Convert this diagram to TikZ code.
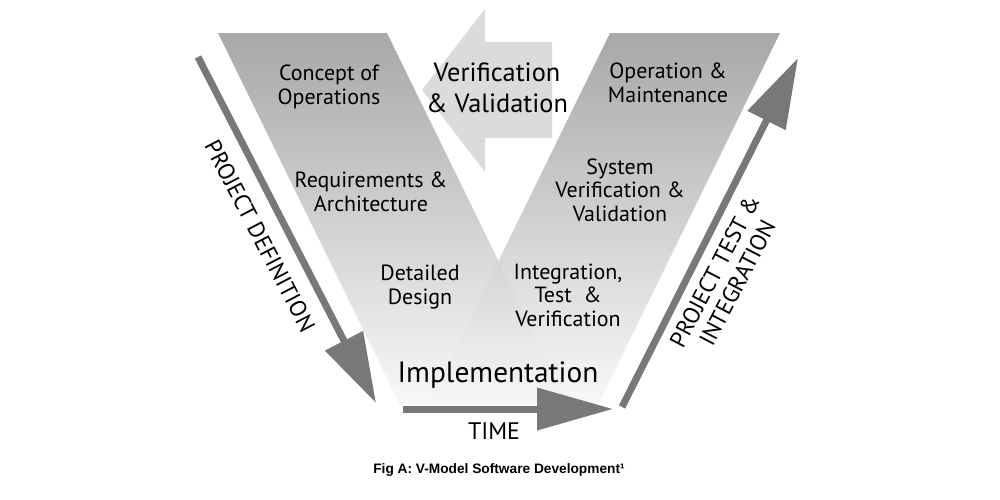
\documentclass[tikz,border=0pt]{standalone}
\usepackage{fontspec}
\setmainfont{PT Sans}
\newfontfamily\figfont{Liberation Sans}
\usetikzlibrary{arrows.meta}
\definecolor{bandtop}{gray}{0.60}
\definecolor{bandbottom}{gray}{0.97}
\definecolor{vvgray}{gray}{0.86}
\definecolor{arrowgray}{gray}{0.47}

\begin{document}
\begin{tikzpicture}[x=0.2mm,y=-0.2mm,
	stage/.style={align=center,inner sep=0pt,font=\fontsize{12.5}{13.4}\selectfont},
	band/.style={top color=bandtop,bottom color=bandbottom,fill opacity=0.85},
	bigarrow/.style={draw=arrowgray,line width=1.4mm,-{Triangle[length=14mm,width=8.2mm]}},
	side/.style={align=center,inner sep=0pt,font=\fontsize{13.2}{14.5}\selectfont}]
\useasboundingbox (0,0) rectangle (1000,500);
% the V
\shade[band] (218,33) -- (387,33) -- (569,405) -- (400,405) -- cycle;
\shade[band] (610,33) -- (780,33) -- (598,405) -- (428,405) -- cycle;
\fill[vvgray] (552,42) -- (485,42) -- (485,9) -- (422,90) -- (485,172) -- (485,138) -- (552,138) -- cycle;
% arrows
\coordinate (def top) at (198,57);
\coordinate (def bottom) at (376,403);
\coordinate (time start) at (403,409);
\coordinate (time end) at (613,409);
\coordinate (int bottom) at (622,407);
\coordinate (int top) at (798,58);
\draw[bigarrow] (def top) -- (def bottom);
\draw[bigarrow,-{Triangle[length=15.2mm,width=8.2mm]}] (time start) -- (time end);
\draw[bigarrow] (int bottom) -- (int top);
% texts
\node [stage] (conops) at (329,87) {Concept of\\Operations};
\node [stage] (reqs) at (371,192) {Requirements \&\\Architecture};
\node [stage] (design) at (420,287) {Detailed\\Design};
\node [stage] (opmaint) at (668,83) {Operation \&\\Maintenance};
\node [stage] (sysvv) at (620,190) {System\\Verification \&\\Validation};
\node [stage] (itv) at (568,295) {Integration,\\Test \ \&\\Verification};
\node [stage,font=\fontsize{15}{17.6}\selectfont] (vv) at (497,88) {Verification\\\& Validation};
\node [stage,anchor=base,font=\fontsize{16.7}{20}\selectfont] (impl) at (498,382) {Implementation};
\node [stage,font=\fontsize{13.6}{16}\selectfont] (time) at (494,431) {TIME};
\node [side,rotate=-62.5] (projdef) at (260,236) {PROJECT DEFINITION};
\node [side,rotate=62.5] (projtest) at (726,277) {PROJECT TEST \&\\INTEGRATION};
\node [inner sep=0pt,font=\figfont\bfseries\fontsize{7.8}{9}\selectfont] (caption) at (499,470) {Fig A: V-Model Software Development¹};
\end{tikzpicture}
\end{document}
